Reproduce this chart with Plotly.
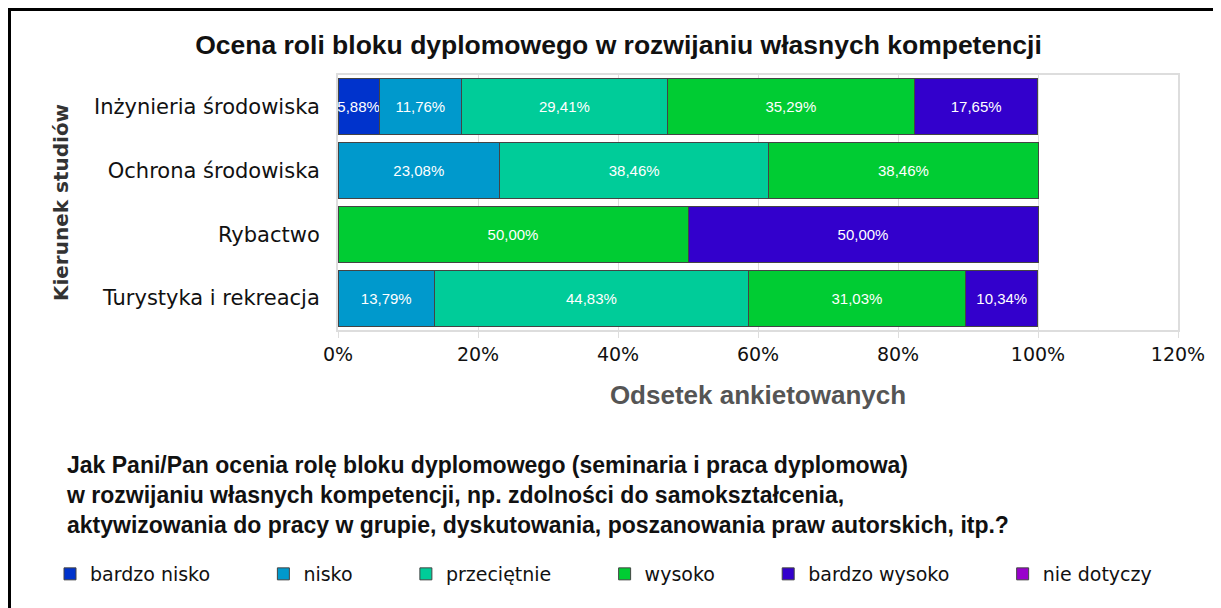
import plotly.graph_objects as go

kierunki = ["Inżynieria środowiska", "Ochrona środowiska", "Rybactwo", "Turystyka i rekreacja"]

bardzo_nisko = [5.88, None, None, None]
nisko = [11.76, 23.08, None, 13.79]
przecietnie = [29.41, 38.46, None, 44.83]
wysoko = [35.29, 38.46, 50.00, 31.03]
bardzo_wysoko = [17.65, None, 50.00, 10.34]
nie_dotyczy = [None, None, None, None]

series = [
    ("bardzo nisko", bardzo_nisko, "#0033CC"),
    ("nisko", nisko, "#0099CC"),
    ("przeciętnie", przecietnie, "#00CC99"),
    ("wysoko", wysoko, "#00CC33"),
    ("bardzo wysoko", bardzo_wysoko, "#3300CC"),
    ("nie dotyczy", nie_dotyczy, "#9900CC"),
]

tick_vals = [0, 20, 40, 60, 80, 100, 120]
tick_text = ["0%", "20%", "40%", "60%", "80%", "100%", "120%"]

pytanie = ("Jak Pani/Pan ocenia rolę bloku dyplomowego (seminaria i praca dyplomowa)<br>"
           "w rozwijaniu własnych kompetencji, np. zdolności do samokształcenia,<br>"
           "aktywizowania do pracy w grupie, dyskutowania, poszanowania praw autorskich, itp.?")

BOLD = "Liberation Sans, Arial"
PAD = "\u00a0" * 8  # extra room after each legend entry


def fmt(v):
    return "" if v is None else f"{v:.2f}".replace(".", ",") + "%"


fig = go.Figure()
for name, vals, color in series:
    fig.add_trace(go.Bar(
        y=kierunki, x=vals, name=name + PAD, orientation="h",
        marker=dict(color=color, line=dict(color="#444444", width=1)),
        text=[fmt(v) for v in vals], textposition="inside", textangle=0,
        insidetextanchor="middle",
        textfont=dict(color="white", size=15, family="Liberation Sans, Arial"),
        hoverinfo="skip",
    ))

# page is offset by the 8px body margin, so figure coords = screen - 8
W, H = 1221, 608
L, R, T, B = 330, 1170, 67, 322
pw, ph = R - L, B - T


def px_x(x):
    return (x - L) / pw


def px_y(y):
    return (B - y) / ph


fig.update_layout(
    width=W, height=H,
    barmode="stack", bargap=0.125,
    margin=dict(l=L, r=W - R, t=T, b=H - B),
    paper_bgcolor="white", plot_bgcolor="white",
    font=dict(family="DejaVu Sans", color="#111111"),
    uniformtext=dict(minsize=15, mode="show"),
    title=dict(
        text="<b>Ocena roli bloku dyplomowego w rozwijaniu własnych kompetencji</b>",
        x=0.5, xref="container", y=1 - 37 / H, yanchor="middle",
        font=dict(family=BOLD, size=26.5, color="#111111"),
    ),
    xaxis=dict(
        range=[0, 120], tickvals=tick_vals, ticktext=tick_text,
        showgrid=True, gridcolor="#DDDDDD", gridwidth=1,
        showline=True, linecolor="#DDDDDD", linewidth=2, mirror=True,
        ticks="outside", ticklen=6, tickcolor="#DDDDDD",
        tickfont=dict(family="DejaVu Sans", size=19, color="#111111"),
        zeroline=False,
        title=dict(text="<b>Odsetek ankietowanych</b>", standoff=22,
                   font=dict(family=BOLD, size=26, color="#555555")),
    ),
    yaxis=dict(
        autorange="reversed",
        showline=True, linecolor="#DDDDDD", linewidth=2, mirror=True,
        ticks="", ticklabelstandoff=12,
        tickfont=dict(family="DejaVu Sans", size=21, color="#111111"),
        title=dict(text="<b>Kierunek studiów</b>", standoff=20,
                   font=dict(family="DejaVu Sans", size=20, color="#333333")),
    ),
    legend=dict(
        orientation="h", x=px_x(42), xanchor="left", y=px_y(566), yanchor="middle",
        bgcolor="rgba(0,0,0,0)",
        font=dict(family="DejaVu Sans", size=19, color="#111111"),
        traceorder="normal", itemwidth=30,
    ),
    annotations=[dict(
        text="<b>" + pytanie + "</b>", xref="paper", yref="paper",
        x=px_x(56), xanchor="left", y=px_y(487), yanchor="middle",
        align="left", showarrow=False,
        font=dict(family=BOLD, size=23, color="#111111"),
    )],
    shapes=[dict(
        type="rect", xref="paper", yref="paper",
        x0=px_x(1.5), x1=px_x(1240), y0=px_y(620), y1=px_y(1.5),
        line=dict(color="black", width=3), layer="above",
    )],
)

fig.write_html("out.html")
